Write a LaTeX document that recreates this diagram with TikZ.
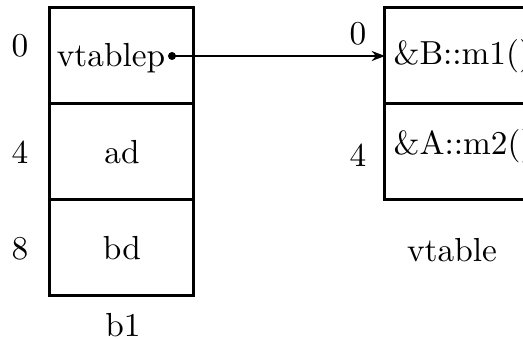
\documentclass[tikz,border=0pt]{standalone}
\usetikzlibrary{arrows.meta}
\begin{document}
\begin{tikzpicture}[x=0.3pt,y=-0.3pt,
  every node/.style={font=\fontsize{10pt}{12pt}\selectfont},
  cell/.style={draw,line width=0.9pt,inner sep=0pt,outer sep=0pt,minimum width=43.2pt,minimum height=28.8pt},
  lbl/.style={inner sep=0pt},
  ptr/.style={line width=0.6pt,-{Stealth[length=4pt,width=3pt]}}]
\useasboundingbox (0,0) rectangle (523,339);
\clip (0,0) rectangle (523,339);
% left object b1
\node[cell] (c0) at (122,56) {};
\node[cell] (c1) at (122,152) {ad};
\node[cell] (c2) at (122,248) {bd};
\node[lbl] (vp) at (111,58) {vtablep};
\coordinate (dot) at (172,56);
\fill (dot) circle (4);
\node[lbl] (o0) at (20,46) {0};
\node[lbl] (o4) at (20,152) {4};
\node[lbl] (o8) at (20,249) {8};
\node[lbl] (b1) at (123,325) {b1};
% vtable
\node[cell] (v0) at (457,56) {};
\node[cell] (v1) at (457,152) {};
\node[lbl,anchor=west] (m1) at (393,56) {\&B::m1()};
\node[lbl,anchor=west] (m2) at (393,146) {\&A::m2()};
\node[lbl] (r0) at (358,34) {0};
\node[lbl] (r4) at (358,155) {4};
\node[lbl] (vt) at (452,250) {vtable};
\draw[ptr] (dot) -- (v0.west);
\end{tikzpicture}
\end{document}
